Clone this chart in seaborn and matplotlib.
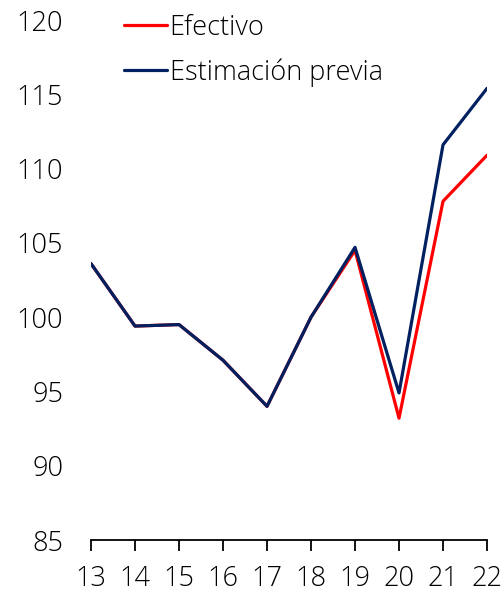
import pandas as pd
import matplotlib.pyplot as plt
import seaborn as sns

# Data
anios = [13, 14, 15, 16, 17, 18, 19, 20, 21, 22]
efectivo = [103.6, 99.4, 99.5, 97.1, 94.0, 100.0, 104.5, 93.2, 107.8, 110.9]
estimacion_previa = [103.6, 99.4, 99.5, 97.1, 94.0, 100.0, 104.7, 94.9, 111.6, 115.4]
y_ticks = [85, 90, 95, 100, 105, 110, 115, 120]

df = pd.DataFrame({
    "anio": anios * 2,
    "valor": efectivo + estimacion_previa,
    "serie": ["Efectivo"] * len(anios) + ["Estimación previa"] * len(anios),
})

sns.set_style("white")
plt.rcParams["font.family"] = ["Open Sans", "DejaVu Sans"]
plt.rcParams["font.weight"] = "light"
plt.rcParams["text.color"] = "black"

fig = plt.figure(figsize=(5.04, 5.92), dpi=100)
ax = fig.add_axes([0.1806, 0.0878, 0.7857, 0.8784])

sns.lineplot(data=df, x="anio", y="valor", hue="serie",
             palette={"Efectivo": "#FF0000", "Estimación previa": "#002060"},
             linewidth=2.3, ax=ax)

ax.set_xlim(13, 22)
ax.set_ylim(85, 120)
ax.set_xticks(anios)
ax.set_yticks(y_ticks)
ax.set_xlabel("")
ax.set_ylabel("")

for s in ["top", "right", "left"]:
    ax.spines[s].set_visible(False)
ax.spines["bottom"].set_color("black")
ax.spines["bottom"].set_linewidth(1.3)
ax.tick_params(axis="x", bottom=True, direction="out", length=8, width=1.3,
               color="black", pad=10, labelsize=19.5, labelcolor="black")
ax.tick_params(axis="y", left=False, length=0, pad=20, labelsize=19.5,
               labelcolor="black")

leg = ax.legend(loc="upper left", bbox_to_anchor=(0.055, 1.033), frameon=False,
                fontsize=19.5, handlelength=1.6, handletextpad=0.1,
                labelspacing=0.62, borderaxespad=0)

fig.savefig("out.png", dpi=100)
